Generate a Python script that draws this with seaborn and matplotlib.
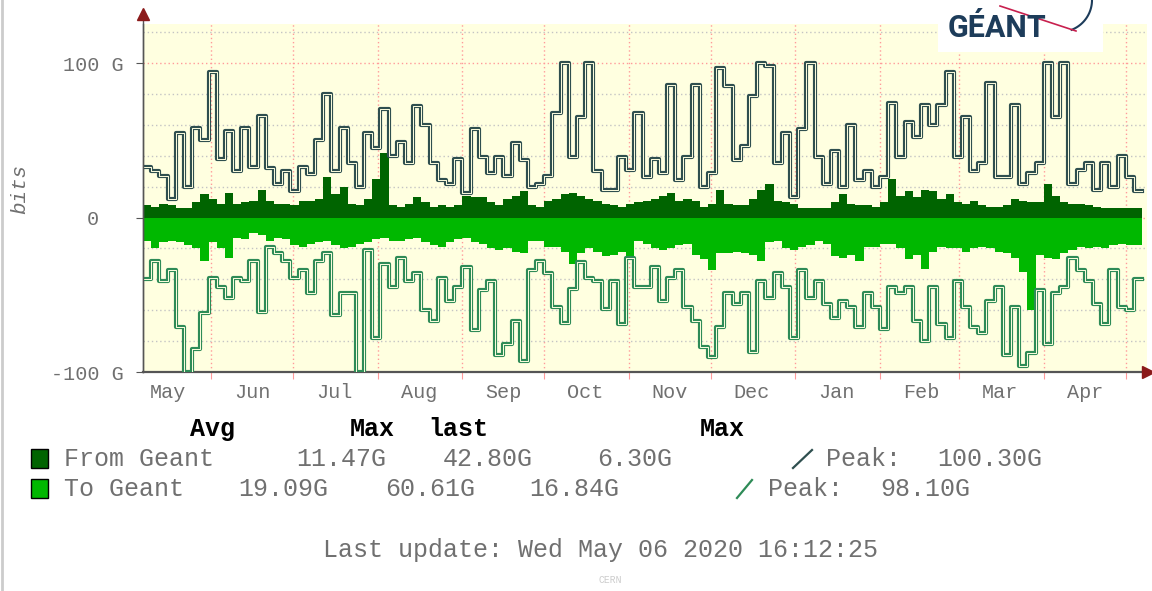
import numpy as np
import pandas as pd
import matplotlib
matplotlib.use('Agg')
import matplotlib.pyplot as plt
import seaborn as sns
from matplotlib.lines import Line2D
from matplotlib.patches import Rectangle

# yearly traffic graph, one value per 3-day bin starting 7 May 2019 (Gbit/s)
start_date = '2019-05-07'
bin_days = 3

avg_from = [8, 7, 9, 8, 6, 6, 10, 15, 12, 9,
            16, 9, 10, 11, 18, 11, 9, 9, 8, 11,
            11, 12, 26, 15, 20, 9, 8, 12, 25, 42,
            8, 7, 9, 13, 10, 7, 8, 7, 8, 14,
            13, 13, 10, 8, 12, 14, 17, 8, 7, 11,
            12, 15, 16, 14, 12, 11, 9, 8, 7, 9,
            10, 11, 12, 14, 16, 11, 12, 11, 7, 9,
            18, 9, 8, 8, 12, 18, 22, 11, 10, 9,
            6, 6, 6, 6, 10, 15, 9, 8, 8, 7,
            10, 25, 14, 17, 13, 18, 17, 12, 15, 10,
            9, 11, 8, 7, 7, 8, 12, 11, 10, 10,
            22, 14, 10, 9, 9, 8, 7, 6, 6, 6,
            6, 6]

avg_to = [-15, -20, -16, -15, -16, -18, -20, -28, -16, -20,
          -26, -13, -14, -10, -11, -15, -13, -14, -18, -19,
          -17, -16, -15, -18, -20, -19, -17, -16, -14, -13,
          -15, -15, -14, -13, -16, -18, -19, -16, -14, -13,
          -16, -17, -20, -21, -20, -22, -23, -15, -15, -19,
          -19, -22, -30, -23, -20, -22, -25, -24, -22, -27,
          -15, -17, -20, -21, -20, -18, -17, -24, -27, -34,
          -23, -23, -22, -23, -24, -28, -16, -15, -20, -21,
          -19, -18, -15, -17, -25, -26, -24, -28, -19, -19,
          -17, -17, -20, -27, -24, -33, -22, -19, -20, -20,
          -22, -20, -19, -20, -22, -23, -26, -35, -60, -24,
          -26, -27, -23, -21, -19, -20, -19, -20, -18, -17,
          -18, -18]

peak_from = [33, 30, 27, 12, 55, 20, 58, 50, 94, 38,
             56, 30, 58, 33, 66, 32, 22, 30, 17, 33,
             28, 50, 80, 30, 58, 35, 20, 55, 45, 70,
             40, 49, 35, 72, 60, 35, 24, 22, 38, 16,
             57, 39, 29, 39, 27, 48, 37, 20, 22, 27,
             68, 100, 39, 65, 100, 30, 18, 18, 39, 31,
             68, 26, 38, 29, 86, 24, 39, 86, 20, 29,
             97, 85, 37, 46, 79, 100, 98, 35, 55, 13,
             57, 100, 39, 22, 43, 20, 60, 24, 30, 20,
             26, 74, 39, 62, 52, 73, 60, 73, 94, 39,
             65, 30, 35, 87, 26, 26, 73, 22, 29, 35,
             100, 65, 100, 22, 31, 35, 18, 35, 20, 40,
             26, 17]

peak_to = [-40, -28, -41, -34, -71, -100, -85, -62, -39, -45,
           -52, -39, -41, -28, -61, -19, -23, -28, -39, -34,
           -49, -28, -23, -63, -49, -49, -100, -21, -78, -30,
           -45, -26, -41, -36, -60, -67, -39, -54, -45, -32,
           -73, -47, -41, -89, -82, -67, -93, -34, -28, -36,
           -58, -68, -46, -29, -39, -41, -59, -41, -69, -26,
           -45, -45, -32, -54, -39, -34, -58, -67, -84, -90,
           -71, -49, -56, -49, -87, -41, -52, -36, -45, -78,
           -34, -52, -41, -56, -65, -54, -58, -71, -49, -58,
           -72, -45, -49, -45, -67, -80, -45, -69, -78, -41,
           -58, -71, -75, -54, -45, -89, -58, -96, -88, -47,
           -82, -49, -45, -26, -34, -41, -56, -69, -34, -58,
           -60, -40]

month_names = ['May', 'Jun', 'Jul', 'Aug', 'Sep', 'Oct',
               'Nov', 'Dec', 'Jan', 'Feb', 'Mar', 'Apr']
ytick_vals = [-100, 0, 100]
ytick_labels = ['-100 G', '0  ', '100 G']
series_names = ['From Geant', 'To Geant']
stats_from = ['11.47G', '42.80G', '6.30G']
stats_to = ['19.09G', '60.61G', '16.84G']
peak_labels = ['100.30G', '98.10G']

# colours
bg = '#ffffe0'
c_avg_from = '#006400'
c_avg_to = '#00b800'
c_peak_from = '#2f4f4f'
c_peak_to = '#2e8b57'
grid_red = '#ff9a9a'
grid_grey = '#c4c4c4'
txt_grey = '#707070'

plt.rcParams['font.family'] = ['Liberation Mono', 'DejaVu Sans']

W, H = 1152, 591
fig = plt.figure(figsize=(W / 100, H / 100), dpi=100)
fig.patch.set_facecolor('white')

def fx(px):
    return px / W

def fy(py):
    return 1 - py / H

ax = fig.add_axes([fx(143), fy(372), (1147 - 143) / W, (372 - 24) / H])
ax.set_facecolor(bg)

# step data frame (last value repeated so the final bin is drawn)
edges = pd.date_range(start_date, periods=len(avg_from) + 1, freq=f'{bin_days}D')

def stepped(vals):
    return list(vals) + [vals[-1]]

df = pd.DataFrame({'date': edges,
                   'avg_from': stepped(avg_from),
                   'avg_to': stepped(avg_to),
                   'peak_from': stepped(peak_from),
                   'peak_to': stepped(peak_to)})

ax.fill_between(df['date'], 0, df['avg_from'], step='post', color=c_avg_from, lw=0, zorder=2)
ax.fill_between(df['date'], 0, df['avg_to'], step='post', color=c_avg_to, lw=0, zorder=2)

# peak lines: thick dark line with a thin light core, like the original
for col, c in [('peak_from', c_peak_from), ('peak_to', c_peak_to)]:
    sns.lineplot(data=df, x='date', y=col, drawstyle='steps-post', estimator=None,
                 color=c, lw=3.0, ax=ax, zorder=3)
    sns.lineplot(data=df, x='date', y=col, drawstyle='steps-post', estimator=None,
                 color=bg, lw=0.7, ax=ax, zorder=4)

t0 = pd.Timestamp(start_date)
ax.set_xlim(t0, t0 + pd.Timedelta(days=367.8))
ax.set_ylim(-100, 125.3)
ax.set_xlabel('')
ax.set_ylabel('')

# grid
ax.set_yticks(ytick_vals, labels=ytick_labels)
ax.set_yticks([-80, -60, -40, -20, 20, 40, 60, 80, 120], minor=True)
ax.yaxis.grid(True, which='major', color=grid_red, ls=(0, (1, 2)), lw=1)
ax.yaxis.grid(True, which='minor', color=grid_grey, ls=(0, (1, 2)), lw=1)

month_starts = pd.date_range('2019-06-01', '2020-05-01', freq='MS')
mid_months = pd.date_range('2019-05-01', '2020-04-01', freq='MS') + pd.Timedelta(days=15)
ax.set_xticks(month_starts, labels=[''] * len(month_starts))
ax.set_xticks(mid_months, labels=month_names, minor=True)
ax.xaxis.grid(True, which='major', color=grid_red, ls=(0, (1, 2)), lw=1)
ax.set_axisbelow(True)

ax.tick_params(axis='y', which='major', length=5, color='#555555', pad=9,
               labelsize=14.5, labelcolor=txt_grey)
ax.tick_params(axis='y', which='minor', length=0)
ax.tick_params(axis='x', which='major', length=5, color=grid_red, pad=2)
ax.tick_params(axis='x', which='minor', length=0, pad=8, labelsize=14.5, labelcolor=txt_grey)

for s in ['top', 'right']:
    ax.spines[s].set_visible(False)
ax.spines['left'].set_color('#555555')
ax.spines['left'].set_linewidth(1)
ax.spines['bottom'].set_color('#555555')
ax.spines['bottom'].set_linewidth(1.6)

# axis extensions with arrows
fig.add_artist(Line2D([fx(143), fx(143)], [fy(372), fy(16)], color='#555555', lw=1))
fig.add_artist(Line2D([fx(1143), fx(1148)], [fy(372), fy(372)], color='#555555', lw=1.6))
fig.add_artist(Line2D([fx(143)], [fy(14)], marker='^', markersize=8, color='#8b1a1a', lw=0))
fig.add_artist(Line2D([fx(1148)], [fy(372)], marker='>', markersize=8, color='#8b1a1a', lw=0))

fig.text(fx(20), fy(189), 'bits', rotation=90, ha='center', va='center',
         fontsize=15, color=txt_grey, style='italic')

# left page border
fig.add_artist(Line2D([fx(2), fx(2)], [0, 1], color='#cccccc', lw=2))

# legend block
hdr = dict(fontsize=18, fontweight='bold', color='black', va='center', ha='center')
fig.text(fx(213), fy(429), 'Avg', **hdr)
fig.text(fx(372), fy(429), 'Max', **hdr)
fig.text(fx(458), fy(429), 'last', **hdr)
fig.text(fx(722), fy(429), 'Max', **hdr)

row_y = [459, 489]
box_colors = [c_avg_from, c_avg_to]
stat_x = [[296, 443, 597], [238, 385, 529]]
stats = [stats_from, stats_to]
slash_x = [(793, 812), (737, 752)]
peak_text_x = [(826, 937), (768, 880)]
peak_colors = [c_peak_from, c_peak_to]
txt = dict(fontsize=18, color=txt_grey, va='center', ha='left')
for k in range(2):
    y = row_y[k]
    fig.add_artist(Rectangle((fx(31), fy(y + 9)), 17 / W, 19 / H, transform=fig.transFigure,
                             facecolor=box_colors[k], edgecolor='black', lw=1))
    fig.text(fx(64), fy(y), series_names[k], **txt)
    for xx, s in zip(stat_x[k], stats[k]):
        fig.text(fx(xx), fy(y), s, **txt)
    x1, x2 = slash_x[k]
    fig.add_artist(Line2D([fx(x1), fx(x2)], [fy(y + 9), fy(y - 9)], color=peak_colors[k], lw=1.6))
    fig.text(fx(peak_text_x[k][0]), fy(y), 'Peak:', **txt)
    fig.text(fx(peak_text_x[k][1]), fy(y), peak_labels[k], **txt)

fig.text(fx(323), fy(550), 'Last update: Wed May 06 2020 16:12:25', fontsize=18,
         color=txt_grey, va='center', ha='left')
fig.text(fx(610), fy(580), 'CERN', fontsize=7, color='#cccccc', va='center', ha='center')

# logo
fig.add_artist(Rectangle((fx(938), fy(52)), (1103 - 938) / W, 52 / H,
                         transform=fig.transFigure, facecolor='white', edgecolor='none', zorder=5))
fig.text(fx(948), fy(28), 'GÉANT', fontsize=22, fontweight='bold', family='Roboto',
         color='#1d3c5a', va='center', ha='left', zorder=6)
ang = np.linspace(0.0, 1.2, 30)
fig.add_artist(Line2D(fx(1060 + 32 * np.cos(ang)), fy(32 * np.sin(ang)),
                      color='#1d3c5a', lw=1.5, zorder=6))
fig.add_artist(Line2D([fx(1000), fx(1076)], [fy(6), fy(31)], color='#c8204e', lw=1.2, zorder=6))

fig.savefig('out.png', dpi=100, facecolor='white')
